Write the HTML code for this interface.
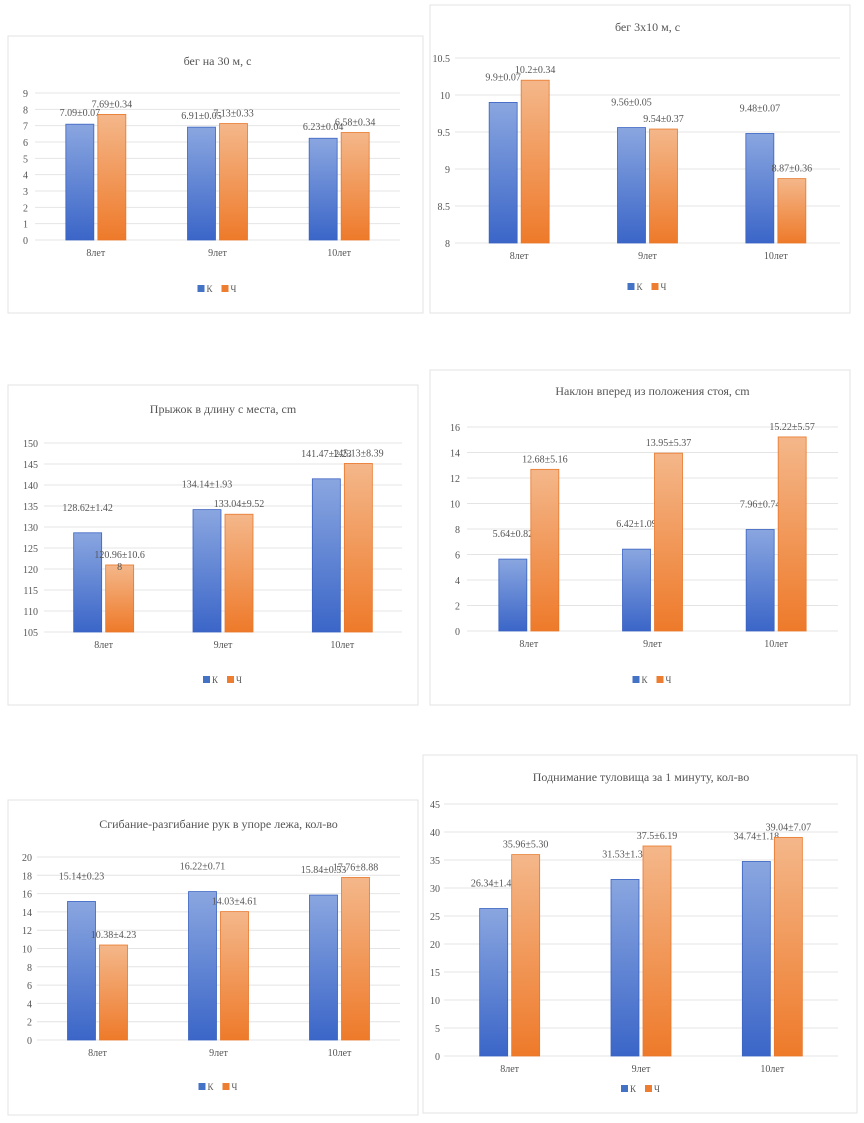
<!DOCTYPE html>
<html><head><meta charset="utf-8">
<style>
body{margin:0;background:#fff;width:864px;height:1123px;overflow:hidden;font-family:"Liberation Serif",serif;}
svg{position:absolute;left:0;top:0}
</style></head>
<body>
<svg id="s" width="864" height="1123">
<defs>
<linearGradient id="gb" x1="0" y1="0" x2="0" y2="1"><stop offset="0" stop-color="#8aa6e0"/><stop offset="1" stop-color="#3b66c8"/></linearGradient>
<linearGradient id="go" x1="0" y1="0" x2="0" y2="1"><stop offset="0" stop-color="#f4b78a"/><stop offset="1" stop-color="#ee7a2a"/></linearGradient>
</defs>
</svg>
<script>
const categories=["8лет","9лет","10лет"];
const c1K=[7.09,6.91,6.23], c1Ch=[7.69,7.13,6.58];
const c1LK=["7.09±0.07","6.91±0.05","6.23±0.04"], c1LCh=["7.69±0.34","7.13±0.33","6.58±0.34"];
const c1Ticks=[0,1,2,3,4,5,6,7,8,9];
const c2K=[9.9,9.56,9.48], c2Ch=[10.2,9.54,8.87];
const c2LK=["9.9±0.07","9.56±0.05","9.48±0.07"], c2LCh=["10.2±0.34","9.54±0.37","8.87±0.36"];
const c2Ticks=[8,8.5,9,9.5,10,10.5];
const c3K=[128.62,134.14,141.47], c3Ch=[120.96,133.04,145.13];
const c3LK=["128.62±1.42","134.14±1.93","141.47±2.23"], c3LCh=["120.96±10.6|8","133.04±9.52","145.13±8.39"];
const c3Ticks=[105,110,115,120,125,130,135,140,145,150];
const c4K=[5.64,6.42,7.96], c4Ch=[12.68,13.95,15.22];
const c4LK=["5.64±0.82","6.42±1.09","7.96±0.74"], c4LCh=["12.68±5.16","13.95±5.37","15.22±5.57"];
const c4Ticks=[0,2,4,6,8,10,12,14,16];
const c5K=[15.14,16.22,15.84], c5Ch=[10.38,14.03,17.76];
const c5LK=["15.14±0.23","16.22±0.71","15.84±0.53"], c5LCh=["10.38±4.23","14.03±4.61","17.76±8.88"];
const c5Ticks=[0,2,4,6,8,10,12,14,16,18,20];
const c6K=[26.34,31.53,34.74], c6Ch=[35.96,37.5,39.04];
const c6LK=["26.34±1.43","31.53±1.35","34.74±1.18"], c6LCh=["35.96±5.30","37.5±6.19","39.04±7.07"];
const c6Ticks=[0,5,10,15,20,25,30,35,40,45];

const NS="http://www.w3.org/2000/svg", S=document.getElementById('s');
function el(t,a,txt,p){const e=document.createElementNS(NS,t);for(const k in a)e.setAttribute(k,a[k]);if(txt!=null)e.textContent=txt;(p||S).appendChild(e);return e;}
function chart(c,K,Ch,LK,LCh,ticks){
  const g=el('g',{});
  
  
  const box=el('rect',{x:c.bx,y:c.by,width:c.bw,height:c.bh,fill:'#fff',stroke:'#e3e3e3'},null,g);
  
  
  const t=el('text',{x:(c.x0+c.x1)/2,y:c.ty,'text-anchor':'middle','font-size':12,fill:'#555'},c.title,g);
  
  
  const mn=ticks[0],mx=ticks[ticks.length-1];
  const Y=v=>c.yb+(v-mn)/(mx-mn)*(c.yt-c.yb);
  ticks.forEach(v=>{
    el('line',{x1:c.x0,x2:c.x1,y1:Y(v),y2:Y(v),stroke:'#e4e4e4'},null,g);
    const l=el('text',{x:c.lx,y:Y(v)+4,'text-anchor':'end','font-size':10,fill:'#555'},String(v),g);
    
    
  });
  const gw=(c.x1-c.x0)/categories.length, bw=28;
  categories.forEach((cat,i)=>{
    const cx=c.x0+gw*(i+0.5);
    [[K,LK,'url(#gb)','#3a62c0',-bw-2],[Ch,LCh,'url(#go)','#e8772a',2]].forEach(([arr,labs,fill,st,off],j)=>{
      const y=Y(arr[i]);
      const r=el('rect',{x:cx+off,y:y,width:bw,height:c.yb-y,fill:fill,stroke:st,'stroke-width':0.8},null,g);
      
      
      const parts=labs[i].split('|');
      const tx=el('text',{x:cx+off+bw/2,y:y-(j?7:22)+(c.name==='chart-30m'&&!j?14:0),'text-anchor':'middle','font-size':10,fill:'#555'},null,g);
      
      
      parts.forEach((p,k)=>el('tspan',{x:cx+off+bw/2+(k?0:0),dy:k?12:0},p,tx));
    });
    const cl=el('text',{x:cx,y:c.yb+16,'text-anchor':'middle','font-size':10,fill:'#555'},cat,g);
    
    
  });
  const lx=(c.x0+c.x1)/2-20;
  el('rect',{x:lx,y:c.ly-7,width:7,height:7,fill:'#4472c4'},null,g);
  el('text',{x:lx+9,y:c.ly,'font-size':9,fill:'#555'},'К',g);
  el('rect',{x:lx+24,y:c.ly-7,width:7,height:7,fill:'#ed7d31'},null,g);
  const le=el('text',{x:lx+33,y:c.ly,'font-size':9,fill:'#555'},'Ч',g);
  
  
}
chart({name:'chart-30m',title:'бег на 30 м, с',bx:8,by:36,bw:415,bh:277,ty:65,x0:35,x1:400,yb:240,yt:93,lx:28,ly:292},c1K,c1Ch,c1LK,c1LCh,c1Ticks);
chart({name:'chart-3x10',title:'бег 3х10 м, с',bx:430,by:5,bw:420,bh:308,ty:31,x0:455,x1:840,yb:243,yt:58,lx:450,ly:290},c2K,c2Ch,c2LK,c2LCh,c2Ticks);
chart({name:'chart-jump',title:'Прыжок в длину с места, cm',bx:8,by:385,bw:410,bh:320,ty:413,x0:44,x1:402,yb:632,yt:443,lx:38,ly:683},c3K,c3Ch,c3LK,c3LCh,c3Ticks);
chart({name:'chart-bend',title:'Наклон вперед из положения стоя, cm',bx:430,by:370,bw:420,bh:335,ty:395,x0:467,x1:838,yb:631,yt:427,lx:460,ly:683},c4K,c4Ch,c4LK,c4LCh,c4Ticks);
chart({name:'chart-pushup',title:'Сгибание-разгибание рук в упоре лежа, кол-во',bx:8,by:800,bw:410,bh:315,ty:828,x0:37,x1:400,yb:1040,yt:857,lx:32,ly:1090},c5K,c5Ch,c5LK,c5LCh,c5Ticks);
chart({name:'chart-situp',title:'Поднимание туловища за 1 минуту, кол-во',bx:423,by:755,bw:434,bh:358,ty:781,x0:444,x1:838,yb:1056,yt:804,lx:440,ly:1092},c6K,c6Ch,c6LK,c6LCh,c6Ticks);
</script>
</body></html>
